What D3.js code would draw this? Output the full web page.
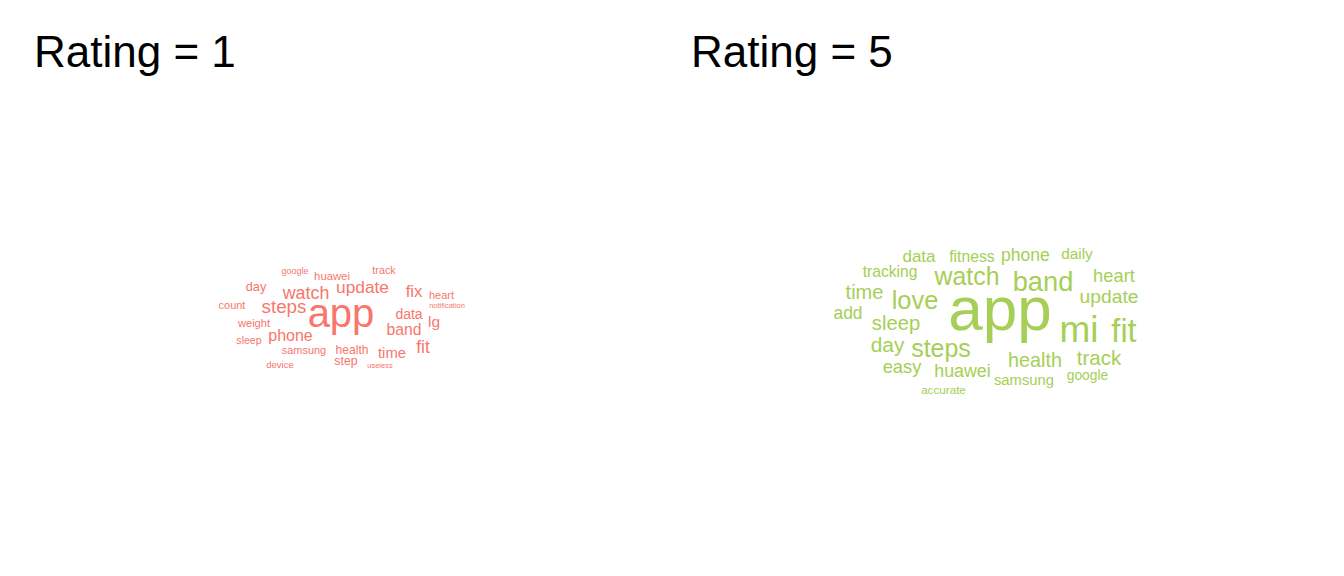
<!DOCTYPE html>
<html>
<head>
<meta charset="utf-8">
<script src="https://cdn.jsdelivr.net/npm/d3@7"></script>
<style>
  html, body { margin: 0; padding: 0; background: #ffffff; }
  svg { display: block; }
</style>
</head>
<body>
<svg id="chart" width="1344" height="576"></svg>
<script>
// ---------------- data ----------------
const ratings = ["1", "5"];

// Rating = 1 : words and counts
const words1 = ["app","steps","watch","update","fit","fix","phone","band","lg","time","data","day","step","health","huawei","weight","heart","count","samsung","track","sleep","device","google","notification","useless"];
const counts1 = [400,88,80,75,76,70,64,62,60,55,49,41,38,37,32,31,30,30,30,29,28,23,20,14,14];
// layout of the rating-1 cloud (word position units, relative to cloud centre)
const layoutX1 = [0,-57,-35,21.5,82,73,-50.5,63,93,51,68,-85,5,11,-9,-87,100.5,-109,-37,43,-92,-61,-46,106,39];
const layoutY1 = [0,-14,-28,-34,26,-30,14,8,0,31,-8,-36,38,27,-47,0,-28,-18,27,-53,17,41,-53,-19,41];

// Rating = 5 : words and counts
const words5 = ["app","mi","fit","band","love","steps","watch","day","track","sleep","time","health","update","heart","easy","huawei","phone","add","data","fitness","tracking","daily","samsung","google","accurate"];
const counts5 = [961,342,264,186,161,156,155,109,105,102,100,98,93,84,84,79,77,76,72,62,61,59,55,48,34];
const layoutX5 = [0,79,124,43,-85,-59,-33,-112.5,99,-104,-135.5,35,109,114,-98,-37.5,25.5,-152,-81,-28,-110,77,24,87.5,-56.5];
const layoutY5 = [0,12,12,-39,-21,27,-45,22,35,0,-31,37,-27,-48,43,47,-69,-11,-68,-68,-53,-71,55,50,64];

const colors = ["#F8766D", "#A5CF55"];

// ---------------- drawing ----------------
const W = 1344, H = 576;
const svg = d3.select("#chart");

const panel = d3.scaleBand().domain(ratings).range([0, W]);
const sizeScale = d3.scaleSqrt().domain([0, 961]).range([0, 62]);

const clouds = [
  {rating: "1", words: words1, counts: counts1, lx: layoutX1, ly: layoutY1, color: colors[0], shiftX: 5, baseY: 327, titleX: 34},
  {rating: "5", words: words5, counts: counts5, lx: layoutX5, ly: layoutY5, color: colors[1], shiftX: -8, baseY: 330, titleX: 19}
];

clouds.forEach(c => {
  const x0 = panel(c.rating);
  const cx = x0 + panel.bandwidth() / 2 + c.shiftX;
  const xs = d3.scaleLinear().domain([-200, 200]).range([cx - 200, cx + 200]);
  const ys = d3.scaleLinear().domain([-200, 200]).range([c.baseY - 200, c.baseY + 200]);

  const g = svg.append("g");
  g.append("text")
    .attr("x", x0 + c.titleX)
    .attr("y", 67)
    .attr("font-family", "Liberation Sans, Arial, sans-serif")
    .attr("font-size", 44)
    .attr("fill", "#000")
    .text("Rating = " + c.rating);

  const data = c.words.map((w, i) => ({word: w, n: c.counts[i], x: c.lx[i], y: c.ly[i]}));
  g.selectAll("text.word")
    .data(data)
    .join("text")
    .attr("class", "word")
    .attr("x", d => xs(d.x))
    .attr("y", d => ys(d.y))
    .attr("text-anchor", "middle")
    .attr("font-family", "Liberation Sans, Arial, sans-serif")
    .attr("font-size", d => sizeScale(d.n))
    .attr("fill", c.color)
    .text(d => d.word);
});
</script>
</body>
</html>
